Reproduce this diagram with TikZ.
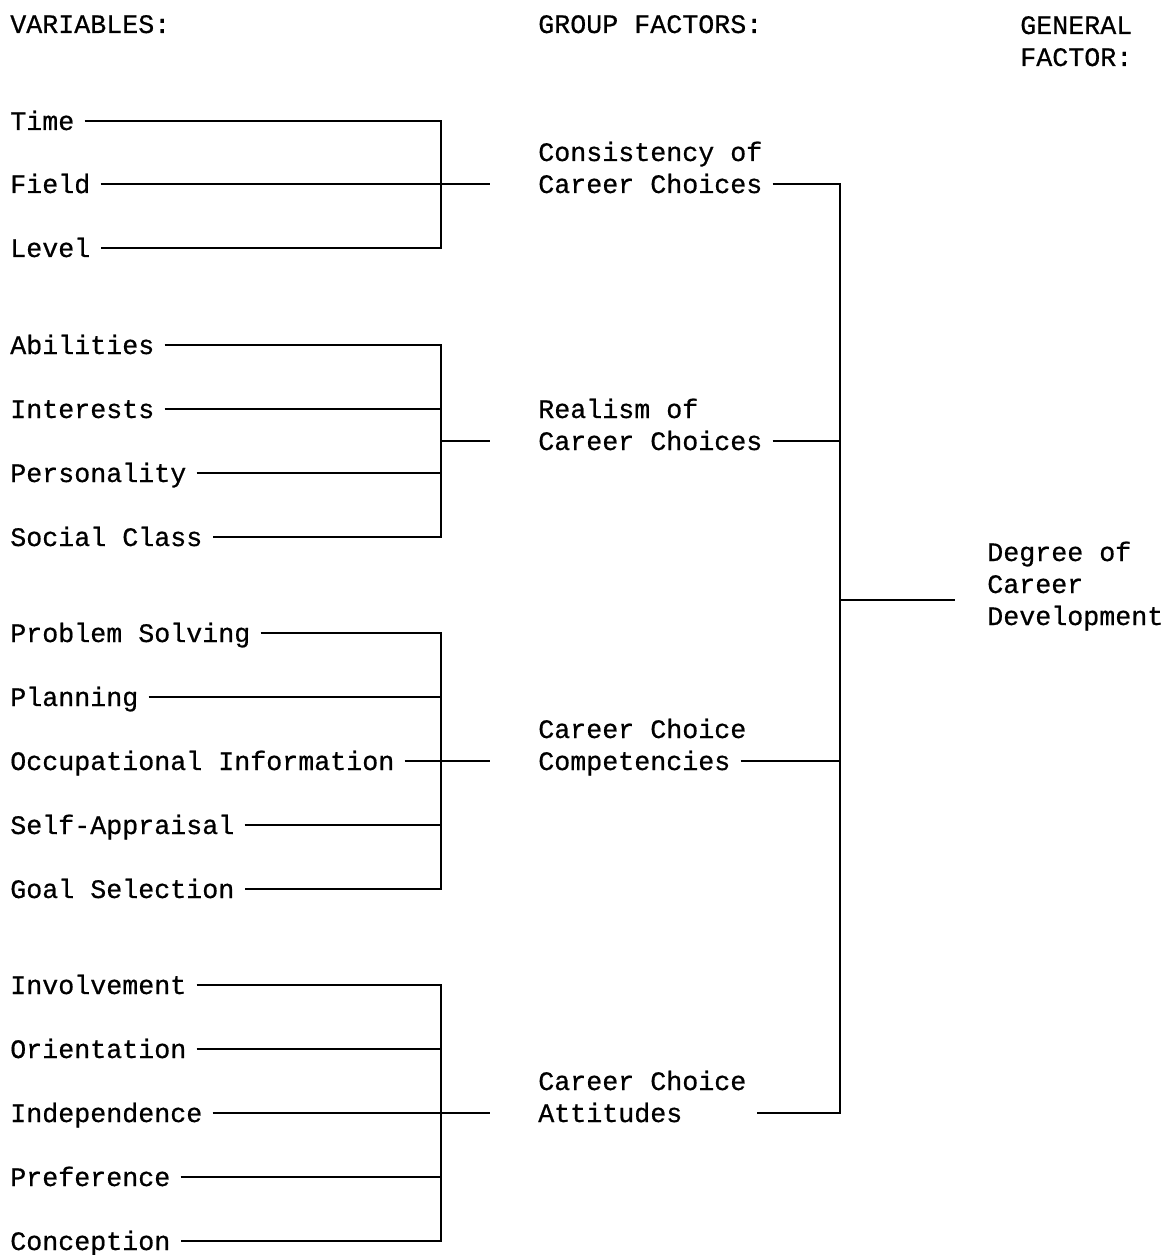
\documentclass[tikz,border=0pt]{standalone}
\usepackage{fontspec}
\setmonofont{Liberation Mono}[FakeBold=0.6]
\usepackage{tikz}
\usetikzlibrary{calc}

\begin{document}
\begin{tikzpicture}[
  x=0.75pt, y=-0.75pt,
  font=\ttfamily\fontsize{20}{24}\selectfont,
  lbl/.style={anchor=west, inner xsep=7.5pt, inner ysep=0pt,
              text height=13.5pt, text depth=0pt},
  link/.style={draw=black, line width=2pt},
]
\useasboundingbox (0,0) rectangle (1167,1255);

%% Headings
\node[lbl] (hvar) at (0,24)    {VARIABLES:};
\node[lbl] (hgrp) at (528,24)  {GROUP FACTORS:};
\node[lbl] (hgen) at (1010,25) {GENERAL};
\node[lbl] (hfac) at (1010,57) {FACTOR:};

%% Variables, column at x=0
\node[lbl] (time) at (0,121)  {Time};
\node[lbl] (fld)  at (0,184)  {Field};
\node[lbl] (lvl)  at (0,248)  {Level};

\node[lbl] (abil) at (0,345)  {Abilities};
\node[lbl] (intr) at (0,409)  {Interests};
\node[lbl] (pers) at (0,473)  {Personality};
\node[lbl] (socl) at (0,537)  {Social Class};

\node[lbl] (prob) at (0,633)  {Problem Solving};
\node[lbl] (plan) at (0,697)  {Planning};
\node[lbl] (occu) at (0,761)  {Occupational Information};
\node[lbl] (self) at (0,825)  {Self-Appraisal};
\node[lbl] (goal) at (0,889)  {Goal Selection};

\node[lbl] (invo) at (0,985)  {Involvement};
\node[lbl] (orie) at (0,1049) {Orientation};
\node[lbl] (inde) at (0,1113) {Independence};
\node[lbl] (pref) at (0,1177) {Preference};
\node[lbl] (conc) at (0,1241) {Conception};

%% Group factors, column at x=528
\node[lbl] (cons1) at (528,152)  {Consistency of};
\node[lbl] (cons2) at (528,184)  {Career Choices};
\node[lbl] (real1) at (528,409)  {Realism of};
\node[lbl] (real2) at (528,441)  {Career Choices};
\node[lbl] (comp1) at (528,729)  {Career Choice};
\node[lbl] (comp2) at (528,761)  {Competencies};
\node[lbl] (att1)  at (528,1081) {Career Choice};
\node[lbl] (att2)  at (528,1113) {Attitudes};

%% General factor
\node[lbl] (deg1) at (977,552) {Degree of};
\node[lbl] (deg2) at (977,584) {Career};
\node[lbl] (deg3) at (977,616) {Development};

%% Bracket columns
\coordinate (gv) at (441,0);
\coordinate (gs) at (490,0);
\coordinate (fv) at (840,0);
\coordinate (j2) at (441,441);
\coordinate (fs) at (955,600);

%% Group 1
\draw[link] (time.east) -- (time.east -| gv) -- (lvl.east -| gv) -- (lvl.east);
\draw[link] (fld.east) -- (fld.east -| gs);

%% Group 2
\draw[link] (abil.east) -- (abil.east -| gv) -- (socl.east -| gv) -- (socl.east);
\draw[link] (intr.east) -- (intr.east -| gv);
\draw[link] (pers.east) -- (pers.east -| gv);
\draw[link] (j2) -- (j2 -| gs);

%% Group 3
\draw[link] (prob.east) -- (prob.east -| gv) -- (goal.east -| gv) -- (goal.east);
\draw[link] (plan.east) -- (plan.east -| gv);
\draw[link] (occu.east) -- (occu.east -| gs);
\draw[link] (self.east) -- (self.east -| gv);

%% Group 4
\draw[link] (invo.east) -- (invo.east -| gv) -- (conc.east -| gv) -- (conc.east);
\draw[link] (orie.east) -- (orie.east -| gv);
\draw[link] (inde.east) -- (inde.east -| gs);
\draw[link] (pref.east) -- (pref.east -| gv);

%% Group factors to general factor
\draw[link] (cons2.east) -- (cons2.east -| fv) -- (att2.east -| fv) -- (att1.east |- att2.east);
\draw[link] (real2.east) -- (real2.east -| fv);
\draw[link] (comp2.east) -- (comp2.east -| fv);
\draw[link] (fs -| fv) -- (fs);

\end{tikzpicture}
\end{document}
